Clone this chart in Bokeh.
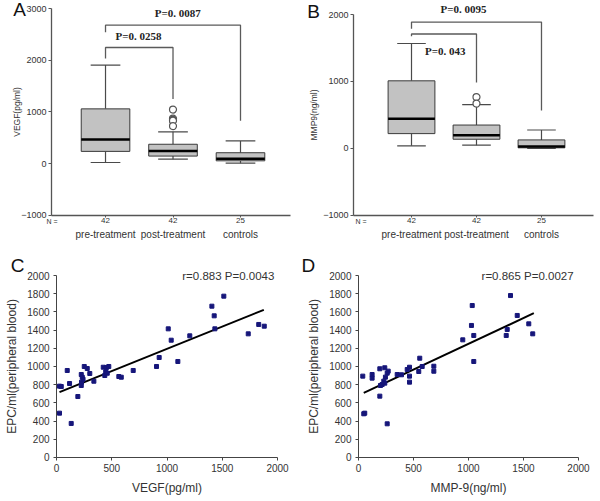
from bokeh.plotting import figure
from bokeh.models import Label, FixedTicker, LinearAxis, ColumnDataSource
from bokeh.layouts import column, row
from bokeh.transform import dodge
from bokeh.embed import file_html
from bokeh.resources import INLINE

FONT = "Liberation Sans"

# ---------------- data: box plots (A: VEGF, B: MMP-9) ----------------
group_pos = [1, 2, 3]
group_names = ["pre-treatment", "post-treatment", "controls"]
group_n = ["42", "42", "25"]

vegf_low = [20, 85, 7]
vegf_q1 = [235, 144, 52]
vegf_med = [464, 242, 92]
vegf_q3 = [1059, 373, 209]
vegf_high = [1908, 614, 438]
vegf_out_x = [2, 2, 2, 2, 2]
vegf_out_y = [1046, 869, 845, 830, 725]
vegf_br_x = [[1, 1, 2, 2], [1, 1, 3, 3]]
vegf_br_y = [[2033, 2248, 2248, 1248], [2542, 2680, 2680, 830]]
vegf_p_text = ["P=0. 0258", "P=0. 0087"]
vegf_p_x = [1.49, 2.07]
vegf_p_y = [2480, 2913]

mmp_low = [39, 49, 3]
mmp_q1 = [222, 138, 10]
mmp_med = [443, 197, 30]
mmp_q3 = [1010, 350, 128]
mmp_high = [1567, 655, 276]
mmp_out_x = [2, 2]
mmp_out_y = [768, 670]
mmp_br_x = [[1, 1, 2, 2], [1, 1, 3, 3]]
mmp_br_y = [[1675, 1709, 1709, 985], [1788, 1887, 1887, 567]]
mmp_p_text = ["P=0. 043", "P=0. 0095"]
mmp_p_x = [1.52, 1.8]
mmp_p_y = [1448, 2075]

# ---------------- data: scatter plots (C, D) ----------------
vegf_pts = [27, 43, 97, 118, 27, 133, 193, 224, 233, 226, 224, 240, 251, 278, 301,
            338, 423, 437, 445, 452, 473, 459, 564, 586, 694, 905, 929, 1011, 1038,
            1098, 1206, 1406, 1427, 1433, 1514, 1735, 1830, 1880]
epc_c = [784, 780, 956, 813, 487, 374, 670, 912, 882, 828, 791, 860, 1000, 978, 923,
         838, 992, 901, 940, 989, 1000, 926, 890, 882, 956, 1000, 1099, 1414, 1289,
         1055, 1337, 1663, 1557, 1414, 1773, 1359, 1462, 1443]
fit_c_x = [27, 1876]
fit_c_y = [718, 1623]

mmp_pts = [39, 124, 124, 194, 194, 239, 270, 261, 245, 230, 215, 200, 239, 57, 48,
           261, 352, 391, 443, 464, 464, 464, 548, 557, 579, 685, 685, 948, 1034,
           1027, 1048, 1048, 1382, 1443, 1548, 1584, 1352, 1343]
epc_d = [894, 912, 872, 975, 674, 986, 949, 927, 883, 839, 802, 791, 817, 487, 480,
         370, 912, 909, 967, 992, 894, 828, 945, 1091, 1000, 1003, 948, 1293, 1670,
         1451, 1341, 1055, 1780, 1561, 1469, 1359, 1407, 1341]
fit_d_x = [48, 1594]
fit_d_y = [711, 1586]

box_ticks = [-1000, 0, 1000, 2000, 3000]
sc_xticks = [0, 500, 1000, 1500, 2000]
sc_yticks = [0, 200, 400, 600, 800, 1000, 1200, 1400, 1600, 1800, 2000]


def base_fig(w, h, xr, yr):
    p = figure(width=w, height=h, x_range=xr, y_range=yr,
               output_backend="svg", toolbar_location=None,
               min_border_left=0, min_border_right=0,
               min_border_top=0, min_border_bottom=0)
    p.xgrid.visible = False
    p.ygrid.visible = False
    p.outline_line_color = None
    p.background_fill_color = "white"
    p.border_fill_color = "white"
    return p


def add_label(p, x, y, text, size, align="center", font=FONT, style="normal",
              color="#333333"):
    p.add_layout(Label(x=x, y=y, text=text, text_font=font, text_font_style=style,
                       text_font_size=size, text_color=color, text_align=align,
                       text_baseline="middle"))


def box_panel(letter, letter_xy, ylab, ylab_standoff, low, q1, med, q3, high,
              out_x, out_y, br_x, br_y, p_text, p_x, p_y, xr, yr, yticks,
              ax_x, ax_xend, n_x):
    p = base_fig(300, 248, xr, yr)
    src = ColumnDataSource(dict(x=group_pos, low=low, q1=q1, med=med, q3=q3, high=high))
    lc = "#4a4a4a"
    p.segment(x0="x", y0="q3", x1="x", y1="high", source=src, line_color=lc, line_width=1.2)
    p.segment(x0="x", y0="q1", x1="x", y1="low", source=src, line_color=lc, line_width=1.2)
    p.segment(x0=dodge("x", -0.22), y0="high", x1=dodge("x", 0.22), y1="high",
              source=src, line_color=lc, line_width=1.2)
    p.segment(x0=dodge("x", -0.22), y0="low", x1=dodge("x", 0.22), y1="low",
              source=src, line_color=lc, line_width=1.2)
    p.vbar(x="x", width=0.72, bottom="q1", top="q3", source=src,
           fill_color="#c2c2c2", line_color="#3a3a3a", line_width=1)
    p.segment(x0=dodge("x", -0.36), y0="med", x1=dodge("x", 0.36), y1="med",
              source=src, line_color="black", line_width=2.5)
    p.scatter(out_x, out_y, marker="circle", size=7, fill_color="white",
              line_color="#555555", line_width=1.2)
    p.multi_line(xs=br_x, ys=br_y, line_color="#5a5a5a", line_width=1.3)
    for t, x, y in zip(p_text, p_x, p_y):
        add_label(p, x, y, t, "11px", font="Liberation Serif", style="bold",
                  color="#222222")
    # axes drawn at fixed data locations inside the full-size frame
    ya = p.yaxis[0]
    ya.fixed_location = ax_x
    ya.bounds = (yticks[0], yticks[-1])
    ya.ticker = FixedTicker(ticks=yticks)
    ya.axis_label = ylab
    ya.axis_label_text_font = FONT
    ya.axis_label_text_font_style = "normal"
    ya.axis_label_text_font_size = "8.5px"
    ya.axis_label_text_color = "#333333"
    ya.axis_label_standoff = ylab_standoff
    ya.major_label_text_font = FONT
    ya.major_label_text_font_size = "9px"
    ya.major_label_text_color = "#333333"
    ya.major_label_standoff = 2
    ya.major_tick_out = 3
    ya.major_tick_in = 0
    ya.minor_tick_line_color = None
    xa = p.xaxis[0]
    xa.fixed_location = yticks[0]
    xa.bounds = (ax_x, ax_xend)
    xa.ticker = FixedTicker(ticks=group_pos)
    xa.major_label_overrides = dict(zip(group_pos, group_n))
    xa.major_label_text_font = FONT
    xa.major_label_text_font_size = "8px"
    xa.major_label_text_color = "#333333"
    xa.major_tick_out = 2
    xa.major_tick_in = 0
    xa.major_label_standoff = 1
    xa.minor_tick_line_color = None
    for ax in (xa, ya):
        ax.axis_line_color = "#555555"
        ax.major_tick_line_color = "#555555"
        ax.axis_line_width = 1.3
    ax2 = LinearAxis(ticker=FixedTicker(ticks=group_pos), fixed_location=yticks[0],
                     major_label_overrides=dict(zip(group_pos, group_names)),
                     axis_line_color=None, major_tick_line_color=None,
                     minor_tick_line_color=None, major_tick_out=0,
                     major_label_text_font=FONT, major_label_text_font_size="10px",
                     major_label_text_color="#333333", major_label_standoff=14)
    p.add_layout(ax2, "below")
    add_label(p, n_x, yticks[0] - (yr[1] - yr[0]) * 0.0254, "N =", "7px", align="left")
    add_label(p, letter_xy[0], letter_xy[1], letter, "19px", color="#111111")
    return p


def scatter_panel(letter, letter_xy, xs, ys, fx, fy, stat, stat_x, xlab, xr, yr):
    p = base_fig(300, 252, xr, yr)
    p.line(fx, fy, line_color="black", line_width=2)
    p.scatter(xs, ys, marker="square", size=4, fill_color="#16167a",
              line_color="#16167a")
    xa = p.xaxis[0]
    ya = p.yaxis[0]
    xa.fixed_location = 0
    ya.fixed_location = 0
    xa.bounds = (sc_xticks[0], sc_xticks[-1])
    ya.bounds = (sc_yticks[0], sc_yticks[-1])
    xa.ticker = FixedTicker(ticks=sc_xticks)
    ya.ticker = FixedTicker(ticks=sc_yticks)
    xa.axis_label = xlab
    ya.axis_label = "EPC/ml(peripheral blood)"
    for ax in (xa, ya):
        ax.axis_line_color = "#444444"
        ax.major_tick_line_color = "#444444"
        ax.minor_tick_line_color = None
        ax.major_tick_out = 3
        ax.major_tick_in = 0
        ax.major_label_text_font = FONT
        ax.major_label_text_font_size = "10px"
        ax.major_label_text_color = "#333333"
        ax.major_label_standoff = 4
        ax.axis_label_text_font = FONT
        ax.axis_label_text_font_style = "normal"
        ax.axis_label_text_font_size = "12px"
        ax.axis_label_text_color = "#333333"
        ax.axis_label_standoff = 5
    add_label(p, stat_x, sc_yticks[-1], stat, "11.5px", align="right")
    add_label(p, letter_xy[0], letter_xy[1], letter, "19px", color="#111111")
    return p


pA = box_panel("A", (-0.274, 2975), "VEGF(pg/ml)", -4, vegf_low, vegf_q1, vegf_med,
               vegf_q3, vegf_high, vegf_out_x, vegf_out_y, vegf_br_x, vegf_br_y,
               vegf_p_text, vegf_p_x, vegf_p_y, (-0.556, 3.889), (-1647, 3159),
               box_ticks, 0.2, 3.74, 0.126)
pB = box_panel("B", (-0.508, 2045), "MMP9(ng/ml)", 1, mmp_low, mmp_q1, mmp_med,
               mmp_q3, mmp_high, mmp_out_x, mmp_out_y, mmp_br_x, mmp_br_y,
               mmp_p_text, mmp_p_x, mmp_p_y, (-0.708, 3.908), (-1493, 2209),
               box_ticks[:-1], 0.108, 3.8, 0.138)
pC = scatter_panel("C", (-353, 2110), vegf_pts, epc_c, fit_c_x, fit_c_y,
                   "r=0.883  P=0.0043", 2000, "VEGF(pg/ml)", (-507, 2208), (-473, 2297))
pD = scatter_panel("D", (-455, 2110), mmp_pts, epc_d, fit_d_x, fit_d_y,
                   "r=0.865  P=0.0027", 1985, "MMP-9(ng/ml)", (-527, 2200), (-473, 2297))

layout = column(row(pA, pB), row(pC, pD))
open("out.html", "w").write(file_html(layout, INLINE))
